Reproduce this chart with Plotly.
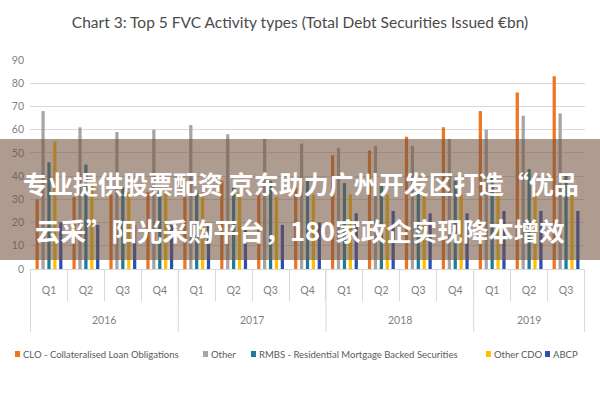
import plotly.graph_objects as go

year_labels = ["2016", "2017", "2018", "2019"]
year_sizes = [4, 4, 4, 3]
quarters = ["Q1", "Q2", "Q3", "Q4"] * 3 + ["Q1", "Q2", "Q3"]
categories = [f"{y} {q}" for y, n in zip(year_labels, year_sizes) for q in quarters[:n]]

series_names = [
    "CLO - Collateralised Loan Obligations",
    "Other",
    "RMBS - Residential Mortgage Backed Securities",
    "Other CDO",
    "ABCP",
]
clo = [30, 31, 32, 33, 31, 38, 34, 35, 49, 51, 57, 61, 68, 76, 83]
other = [68, 61, 59, 60, 62, 58, 56, 54, 52, 53, 53, 56, 60, 66, 67]
rmbs = [46, 45, 35, 35, 34, 35, 38, 38, 37, 36, 33, 38, 40, 43, 41]
other_cdo = [55, 37, 33, 33, 33, 33, 31, 32, 32, 32, 33, 32, 33, 34, 33]
abcp = [20, 19, 19, 19, 19, 19, 19, 20, 24, 25, 24, 24, 25, 25, 25]

colors = ["#EE7623", "#A5A5A5", "#1F7C99", "#FFC000", "#2A4FB5"]
all_values = [clo, other, rmbs, other_cdo, abcp]

title_text = "Chart 3: Top 5 FVC Activity types (Total Debt Securities Issued €bn)"
banner_line1 = "专业提供股票配资 京东助力广州开发区打造“优品"
banner_line2 = "云采”阳光采购平台，180家政企实现降本增效"

W, H = 600, 400
ML, MR, MT, MB = 30, 15, 60, 131
PW, PH = W - ML - MR, H - MT - MB


def px_x(x):
    return (x - ML) / PW


def px_y(y):
    return (H - MB - y) / PH


fig = go.Figure()
for name, vals, col in zip(series_names, all_values, colors):
    fig.add_trace(go.Bar(x=categories, y=vals, name=name,
                         marker=dict(color=col, line=dict(width=0)),
                         showlegend=False))

font_family = "Lato, Liberation Sans, Arial, sans-serif"
grey_line = "#D9D9D9"

shapes = []
annotations = []

# year level of the category axis: dividers + labels
start = 0
boundaries = [-0.5]
for lab, n in zip(year_labels, year_sizes):
    annotations.append(dict(text=lab, xref="x", yref="paper",
                            x=start + (n - 1) / 2, y=px_y(320),
                            xanchor="center", yanchor="middle", showarrow=False,
                            font=dict(family=font_family, size=10.5, color="#7F7F7F")))
    start += n
    boundaries.append(start - 0.5)
for b in boundaries:
    shapes.append(dict(type="line", xref="x", yref="paper", x0=b, x1=b,
                       y0=0, y1=px_y(332), line=dict(color=grey_line, width=1)))

# compact legend (squares + labels)
legend_x = [15, 203, 251, 486, 545]
for lx, name, col in zip(legend_x, series_names, colors):
    shapes.append(dict(type="rect", xref="paper", yref="paper",
                       x0=px_x(lx), x1=px_x(lx + 5), y0=px_y(357), y1=px_y(351),
                       fillcolor=col, line=dict(width=0)))
    annotations.append(dict(text=name, xref="paper", yref="paper",
                            x=px_x(lx + 6), y=px_y(354), xanchor="left", yanchor="middle",
                            showarrow=False,
                            font=dict(family=font_family, size=9.5, color="#595959")))

# overlay banner
shapes.append(dict(type="rect", xref="paper", yref="paper",
                   x0=px_x(0), x1=px_x(600), y0=px_y(260), y1=px_y(139),
                   fillcolor="rgba(115,85,65,0.58)", line=dict(width=0), layer="above"))
annotations.append(dict(text="<b>" + banner_line1 + "</b>", xref="paper", yref="paper",
                        x=px_x(301), y=px_y(183), xanchor="center", yanchor="middle",
                        showarrow=False,
                        font=dict(family="Noto Sans CJK SC", size=25, color="white")))
annotations.append(dict(text="<b>" + banner_line2 + "</b>", xref="paper", yref="paper",
                        x=px_x(300), y=px_y(229), xanchor="center", yanchor="middle",
                        showarrow=False,
                        font=dict(family="Noto Sans CJK SC", size=25.5, color="white")))

fig.update_layout(
    width=W, height=H,
    margin=dict(l=ML, r=MR, t=MT, b=MB, autoexpand=False),
    paper_bgcolor="white", plot_bgcolor="white",
    barmode="group", bargap=0.2, bargroupgap=0.45,
    title=dict(text=title_text, x=0.5, xref="container", xanchor="center",
               y=1 - 23 / H, yref="container", yanchor="middle",
               font=dict(family=font_family, size=15.5, color="#4A4A4A")),
    shapes=shapes, annotations=annotations,
    showlegend=False,
    xaxis=dict(type="category", tickmode="array", tickvals=categories, ticktext=quarters,
               tickson="boundaries", ticks="outside", ticklen=31, tickcolor=grey_line,
               ticklabelstandoff=11,
               showline=True, linecolor=grey_line,
               tickfont=dict(family=font_family, size=10.5, color="#7F7F7F"),
               showgrid=False, automargin=False),
    yaxis=dict(range=[0, 90], dtick=10, showgrid=True, gridcolor=grey_line,
               zeroline=False, showline=False, ticks="", ticklabelstandoff=5,
               tickfont=dict(family=font_family, size=10.5, color="#7F7F7F"),
               automargin=False),
)

fig.write_html("out.html")
